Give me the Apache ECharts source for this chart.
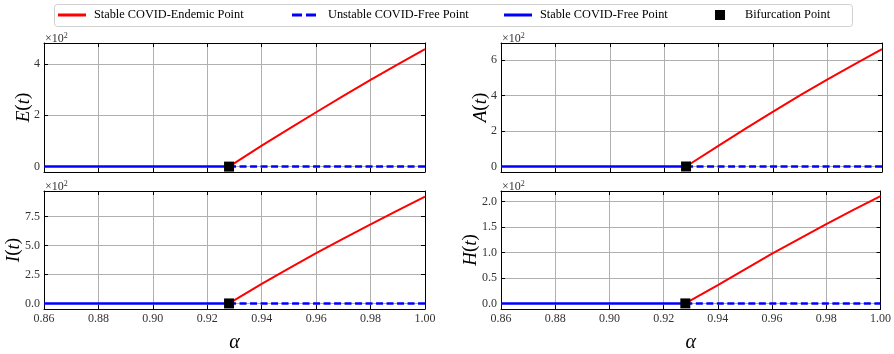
<!DOCTYPE html>
<html>
<head>
<meta charset="utf-8">
<script src="https://cdn.jsdelivr.net/npm/echarts@6/dist/echarts.min.js"></script>
<style>
  html, body { margin: 0; padding: 0; background: #fff; }
  #chart { width: 894px; height: 354px; }
</style>
</head>
<body>
<div id="chart"></div>
<script>
// Bifurcation diagram: equilibrium levels of E, A, I, H versus alpha
const alphaEndemic = [0.928, 0.94, 0.95, 0.96, 0.97, 0.98, 0.99, 1.00];
const endemicE = [0, 82, 147, 212, 276, 338, 399, 458];
const endemicA = [0, 117, 214, 309, 402, 490, 576, 660];
const endemicI = [0, 170, 304, 434, 560, 683, 804, 923];
const endemicH = [0, 36, 67, 98, 127, 156, 184, 211];

const alphaStableFree = [0.86, 0.928];
const stableFreeLevel = [0, 0];
const alphaUnstableFree = [0.928, 1.00];
const unstableFreeLevel = [0, 0];

const bifurcationAlpha = 0.928;
const bifurcationLevel = 0;

const xTicks = [0.86, 0.88, 0.90, 0.92, 0.94, 0.96, 0.98, 1.00];
const yTicksE = [0, 200, 400];
const yTicksA = [0, 200, 400, 600];
const yTicksI = [0, 250, 500, 750];
const yTicksH = [0, 50, 100, 150, 200];

const SERIF = "'Liberation Serif', 'DejaVu Serif', serif";
const RED = '#ff0000';
const BLUE = '#0000ff';

const panels = [
  { key: 'E', vals: endemicE, ticks: yTicksE, digits: 0, range: [-21, 482], left: 44, top: 43, height: 129, bottom: false, nameGap: 11 },
  { key: 'A', vals: endemicA, ticks: yTicksA, digits: 0, range: [-31, 695], left: 501, top: 43, height: 129, bottom: false, nameGap: 11 },
  { key: 'I', vals: endemicI, ticks: yTicksI, digits: 1, range: [-48, 972], left: 44, top: 191, height: 130, bottom: true, nameGap: 21 },
  { key: 'H', vals: endemicH, ticks: yTicksH, digits: 1, range: [-11, 221], left: 501, top: 191, height: 130, bottom: true, nameGap: 21 }
];
const PANEL_W = 381;

const zip = (xs, ys) => xs.map((x, i) => [x, ys[i]]);

const grid = [], xAxis = [], yAxis = [], series = [], graphic = [];

const tickStyle = { inside: true, length: 4, lineStyle: { color: '#000', width: 1 } };
const gridLine = { show: true, lineStyle: { color: '#b0b0b0', width: 1 } };

panels.forEach((p, i) => {
  grid.push({ left: p.left, top: p.top, width: PANEL_W, height: p.height });

  // bottom and top x axes
  xAxis.push({
    type: 'value', gridIndex: i, position: 'bottom', min: 0.86, max: 1.00, interval: 0.02,
    axisLine: { show: true, onZero: false, lineStyle: { color: '#000', width: 1 } },
    axisTick: tickStyle,
    splitLine: gridLine,
    axisLabel: {
      show: p.bottom, margin: 4, fontFamily: SERIF, fontSize: 12, color: '#333',
      formatter: v => v.toFixed(2)
    },
    name: p.bottom ? 'α' : '',
    nameLocation: 'middle', nameGap: 24, nameMoveOverlap: false,
    nameTextStyle: { fontFamily: SERIF, fontStyle: 'italic', fontSize: 20, color: '#000' }
  });
  xAxis.push({
    type: 'value', gridIndex: i, position: 'top', min: 0.86, max: 1.00, interval: 0.02,
    axisLine: { show: true, onZero: false, lineStyle: { color: '#000', width: 1 } },
    axisTick: tickStyle, axisLabel: { show: false }, splitLine: { show: false }
  });

  // left and right y axes
  yAxis.push({
    type: 'value', gridIndex: i, position: 'left', min: p.range[0], max: p.range[1],
    axisLine: { show: true, onZero: false, lineStyle: { color: '#000', width: 1 } },
    axisTick: Object.assign({ customValues: p.ticks }, tickStyle),
    splitLine: gridLine,
    axisLabel: {
      customValues: p.ticks, margin: 4, fontFamily: SERIF, fontSize: 12, color: '#333',
      formatter: v => (v / 100).toFixed(p.digits)
    },
    name: '{i|' + p.key + '}{n|(}{i|t}{n|)}',
    nameLocation: 'middle', nameRotate: 90, nameGap: p.nameGap, nameMoveOverlap: false,
    nameTextStyle: {
      rich: {
        i: { fontFamily: SERIF, fontStyle: 'italic', fontSize: 19, color: '#000' },
        n: { fontFamily: SERIF, fontSize: 19, color: '#000' }
      }
    }
  });
  yAxis.push({
    type: 'value', gridIndex: i, position: 'right', min: p.range[0], max: p.range[1],
    axisLine: { show: true, onZero: false, lineStyle: { color: '#000', width: 1 } },
    axisTick: Object.assign({ customValues: p.ticks }, tickStyle),
    axisLabel: { show: false }, splitLine: { show: false }
  });

  const xi = 2 * i, yi = 2 * i;
  series.push({
    name: 'Stable COVID-Free Point', type: 'line', xAxisIndex: xi, yAxisIndex: yi,
    data: zip(alphaStableFree, stableFreeLevel), symbol: 'none', z: 3,
    color: BLUE, lineStyle: { color: BLUE, width: 2.5 }
  });
  series.push({
    name: 'Unstable COVID-Free Point', type: 'line', xAxisIndex: xi, yAxisIndex: yi,
    data: zip(alphaUnstableFree, unstableFreeLevel), symbol: 'none', z: 3,
    color: BLUE, lineStyle: { color: BLUE, width: 2.5, type: [7, 3.5] }
  });
  series.push({
    name: 'Stable COVID-Endemic Point', type: 'line', xAxisIndex: xi, yAxisIndex: yi,
    data: zip(alphaEndemic, p.vals), symbol: 'none', z: 4,
    color: RED, lineStyle: { color: RED, width: 2 }
  });
  series.push({
    name: 'Bifurcation Point', type: 'scatter', xAxisIndex: xi, yAxisIndex: yi,
    data: [[bifurcationAlpha, bifurcationLevel]], symbol: 'rect', symbolSize: 10, z: 5,
    color: '#000', itemStyle: { color: '#000', opacity: 1 }
  });

  // axis scale multiplier shown above the y axis
  graphic.push({
    type: 'text', left: p.left + 1, top: p.top - 11,
    style: {
      text: '×10{s|2}', fontFamily: SERIF, fontSize: 12, fill: '#333',
      rich: { s: { fontFamily: SERIF, fontSize: 8, fill: '#333', verticalAlign: 'top', padding: [0, 0, 6, 0] } }
    }
  });
});

// legend frame
graphic.push({
  type: 'rect', z: -1,
  shape: { x: 54.5, y: 4.5, width: 798, height: 22, r: 3 },
  style: { fill: '#fff', stroke: '#d0d0d0', lineWidth: 1 }
});

// legend handles: solid bar, dashed bar, filled square
const ICON_SOLID = 'path://M0,0h28v3h-28z';
const ICON_DASHED = 'path://M0,0h10v3h-10zM14,0h10v3h-10z';
const ICON_SQUARE = 'path://M0,0h10v10h-10z';

const legendText = (pad) => ({ fontFamily: SERIF, fontSize: 12.3, color: '#000', lineHeight: 14, padding: [0, 0, 0, pad] });
const legend = [
  { data: [{ name: 'Stable COVID-Endemic Point', icon: ICON_SOLID }], left: 58, top: 8, padding: 0,
    itemWidth: 28, itemHeight: 3, textStyle: legendText(3) },
  { data: [{ name: 'Unstable COVID-Free Point', icon: ICON_DASHED }], left: 292, top: 8, padding: 0,
    itemWidth: 24, itemHeight: 3, textStyle: legendText(7) },
  { data: [{ name: 'Stable COVID-Free Point', icon: ICON_SOLID }], left: 504, top: 8, padding: 0,
    itemWidth: 28, itemHeight: 3, textStyle: legendText(3) },
  { data: [{ name: 'Bifurcation Point', icon: ICON_SQUARE }], left: 715, top: 8, padding: 0,
    itemWidth: 10, itemHeight: 10, textStyle: legendText(15) }
];

const chart = echarts.init(document.getElementById('chart'), null, { renderer: 'canvas' });
chart.setOption({
  animation: false,
  backgroundColor: '#fff',
  grid, xAxis, yAxis, series, legend, graphic
});
</script>
</body>
</html>
